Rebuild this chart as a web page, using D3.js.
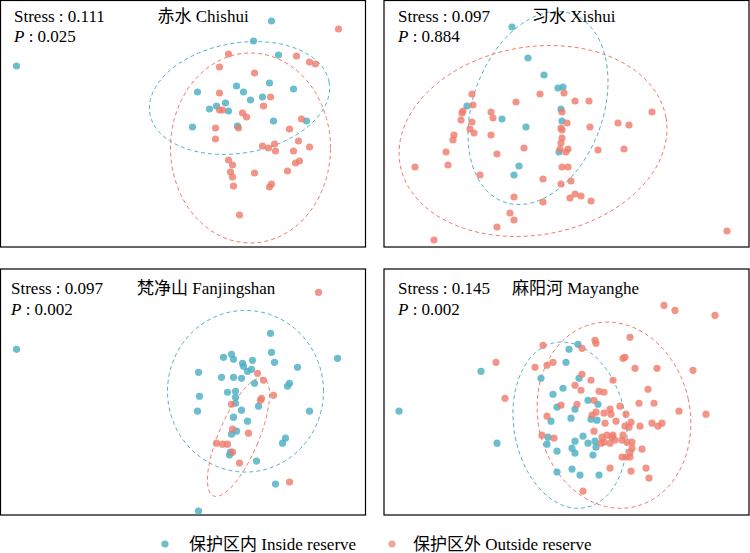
<!DOCTYPE html>
<html><head><meta charset="utf-8">
<script src="https://cdn.jsdelivr.net/npm/d3@7"></script>
<style>
html,body{margin:0;padding:0;background:#fff;}
svg{display:block;}
text{font-family:"Liberation Serif","Times New Roman","Noto Sans CJK SC",serif;fill:#000;}
</style></head>
<body><svg id="chart" width="750" height="553"></svg>
<script>
// ---- data (NMDS scores, arbitrary units) ----
const panelNames = ["赤水 Chishui", "习水 Xishui", "梵净山 Fanjingshan", "麻阳河 Mayanghe"];
const stressValues = ["0.111", "0.097", "0.097", "0.145"];
const pValues = ["0.025", "0.884", "0.002", "0.002"];
const groupLabels = ["保护区内 Inside reserve", "保护区外 Outside reserve"];

const chishuiInside = [[0.16,1.81],[2.71,2.26],[2.53,2.06],[2.78,1.92],[1.97,1.55],[2.36,1.61],[2.43,1.55],[2.69,1.64],[2.93,1.58],[2.50,1.47],[2.62,1.50],[2.25,1.44],[2.16,1.41],[2.09,1.38],[2.28,1.36],[2.73,1.26],[3.06,1.26],[1.92,1.20],[2.37,1.21]];
const chishuiOutside = [[3.38,2.18],[2.28,1.93],[2.96,1.91],[3.09,1.85],[3.15,1.83],[2.19,1.80],[2.54,1.74],[2.19,1.54],[2.70,1.50],[2.63,1.41],[2.19,1.37],[2.22,1.37],[2.42,1.34],[2.46,1.30],[3.01,1.28],[2.15,1.19],[2.38,1.19],[2.89,1.18],[2.15,1.08],[2.98,1.06],[2.62,1.01],[2.74,1.03],[2.68,0.99],[2.75,0.96],[3.09,1.00],[2.93,0.96],[2.28,0.87],[2.32,0.82],[2.99,0.86],[2.95,0.84],[2.30,0.75],[2.32,0.70],[2.54,0.74],[2.87,0.76],[2.33,0.61],[2.71,0.63],[2.69,0.60],[2.39,0.32]];

const xishuiInside = [[1.28,2.20],[1.44,1.89],[1.60,1.72],[1.74,1.59],[1.79,1.60],[0.83,1.41],[1.77,1.38],[1.18,1.28],[1.78,1.26],[1.42,1.20],[1.75,0.95],[1.35,0.81],[1.30,0.72]];
const xishuiOutside = [[1.80,1.54],[1.56,1.53],[0.88,1.53],[1.32,1.45],[1.91,1.46],[2.05,1.46],[0.89,1.42],[0.79,1.36],[0.78,1.34],[1.07,1.35],[2.68,1.35],[1.09,1.29],[0.77,1.27],[0.88,1.25],[1.78,1.35],[1.83,1.24],[2.34,1.24],[2.45,1.22],[2.06,1.20],[1.77,1.19],[1.78,1.17],[0.86,1.18],[0.90,1.14],[0.70,1.12],[1.07,1.12],[1.78,1.09],[0.69,1.07],[1.77,1.04],[1.40,0.99],[1.76,0.98],[1.84,0.98],[1.82,0.95],[2.14,0.97],[2.40,0.98],[0.62,0.95],[1.13,0.93],[0.64,0.82],[0.31,0.80],[1.78,0.80],[1.84,0.80],[0.96,0.72],[1.59,0.68],[1.87,0.66],[1.77,0.63],[1.91,0.53],[1.97,0.51],[1.86,0.49],[1.30,0.50],[1.59,0.45],[2.07,0.46],[1.26,0.34],[1.30,0.27],[1.13,0.20],[0.50,0.07],[3.43,0.16]];

const fanjingInside = [[0.16,1.66],[2.70,1.82],[2.71,1.63],[3.37,1.57],[2.23,1.58],[2.31,1.61],[2.33,1.56],[2.42,1.52],[2.43,1.49],[2.52,1.55],[2.74,1.53],[2.97,1.48],[1.98,1.43],[2.47,1.44],[2.51,1.46],[2.21,1.38],[2.33,1.38],[2.41,1.37],[2.54,1.32],[2.89,1.32],[2.87,1.29],[1.99,1.19],[2.27,1.23],[2.35,1.24],[2.35,1.18],[2.35,1.12],[2.58,1.09],[1.97,1.04],[2.41,1.05],[3.09,1.04],[2.33,0.98],[2.47,0.94],[2.36,0.84],[2.31,0.81],[2.85,0.77],[2.82,0.72],[2.30,0.63],[2.29,0.60],[2.56,0.54],[2.75,0.31],[1.98,0.04]];
const fanjingOutside = [[3.18,2.23],[2.57,1.42],[2.63,1.35],[2.73,1.20],[2.61,1.17],[2.60,1.15],[2.31,1.11],[2.32,0.86],[2.48,0.82],[2.16,0.72],[2.22,0.71],[2.27,0.71],[2.32,0.63],[2.39,0.52],[2.89,0.33]];

const mayangInside = [[0.15,1.04],[0.97,1.44],[1.13,0.72],[1.94,1.71],[1.85,1.66],[1.82,1.53],[1.57,1.37],[1.95,1.37],[1.79,1.27],[1.69,1.21],[1.73,1.08],[1.91,1.06],[2.04,1.15],[2.14,1.11],[1.67,0.94],[1.87,0.97],[2.07,0.96],[2.13,0.95],[1.64,0.78],[1.63,0.71],[1.99,0.79],[1.91,0.74],[2.04,0.72],[2.11,0.74],[2.12,0.68],[1.88,0.67],[1.91,0.62],[1.73,0.64],[2.09,0.60],[1.73,0.43],[1.88,0.46],[1.96,0.40],[2.15,0.40]];
const mayangOutside = [[2.80,2.10],[2.91,2.05],[3.31,2.00],[2.11,1.75],[2.12,1.72],[2.46,1.78],[1.59,1.70],[1.98,1.67],[2.39,1.57],[2.41,1.58],[1.12,1.53],[1.69,1.53],[1.63,1.50],[1.51,1.48],[2.51,1.47],[2.73,1.47],[3.09,1.45],[1.98,1.41],[2.07,1.35],[2.29,1.35],[1.91,1.30],[1.97,1.25],[2.15,1.24],[2.20,1.23],[2.64,1.26],[1.21,1.17],[2.10,1.15],[1.77,1.10],[1.93,1.11],[2.36,1.09],[2.55,1.12],[2.70,1.12],[2.26,1.06],[2.12,1.03],[2.20,1.02],[2.27,1.01],[2.42,1.01],[2.95,1.04],[3.22,1.01],[1.63,0.99],[2.08,1.00],[2.21,0.92],[2.32,0.94],[2.47,0.93],[2.41,0.89],[2.68,0.92],[2.74,0.89],[2.78,0.92],[2.56,0.89],[2.45,0.88],[2.10,0.84],[1.58,0.80],[1.70,0.77],[2.18,0.78],[2.23,0.80],[2.28,0.78],[2.31,0.75],[2.20,0.73],[2.26,0.72],[2.17,0.72],[2.29,0.80],[2.39,0.80],[2.38,0.75],[2.48,0.73],[2.43,0.73],[2.48,0.67],[2.58,0.66],[2.46,0.63],[2.38,0.58],[2.42,0.58],[2.46,0.58],[2.26,0.47],[2.47,0.44],[2.62,0.47],[2.65,0.37],[1.99,0.24]];

// confidence ellipses: [cx, cy, rx, ry, angleDeg]
const ellipsesInside = [[2.39,1.49,0.91,0.55,10],[1.54,1.39,0.65,1.00,-20],[2.45,1.24,0.78,0.81,0],[1.86,0.90,0.56,0.84,10]];
const ellipsesOutside = [[2.50,0.99,0.80,0.95,0],[1.49,1.06,1.35,0.94,10],[2.38,0.78,0.20,0.64,-23],[2.30,1.00,0.76,0.94,12]];

const insideSets = [chishuiInside, xishuiInside, fanjingInside, mayangInside];
const outsideSets = [chishuiOutside, xishuiOutside, fanjingOutside, mayangOutside];

// ---- layout ----
const colIn = "#52b1c6", colOut = "#ef7a6a";
const frames = [
  {x0:0.5, x1:365.5, y0:0.5, y1:247, sx:13.5, sy:21, tx:157},
  {x0:384, x1:749, y0:0.5, y1:247, sx:14, sy:21, tx:148},
  {x0:0.5, x1:365.5, y0:269, y1:515, sx:10.5, sy:25, tx:136.5},
  {x0:384, x1:749, y0:269, y1:515, sx:14, sy:25, tx:128}
];
const svg = d3.select("#chart");

frames.forEach((f, i) => {
  const x = d3.scaleLinear().domain([0, 3.65]).range([f.x0, f.x1]);
  const y = d3.scaleLinear().domain([0, 2.46]).range([f.y1, f.y0 + 0.5]);
  const g = svg.append("g");
  g.append("rect").attr("x", f.x0).attr("y", f.y0).attr("width", f.x1 - f.x0).attr("height", f.y1 - f.y0)
    .attr("fill", "none").attr("stroke", "#000").attr("stroke-width", 1.2);

  const ell = (e) => {
    const [cx, cy, rx, ry, a] = e;
    const th = a * Math.PI / 180;
    const pts = d3.range(0, 361, 3).map(d => {
      const t = d * Math.PI / 180;
      const dx = rx * Math.cos(t), dy = ry * Math.sin(t);
      return [cx + dx * Math.cos(th) - dy * Math.sin(th), cy + dx * Math.sin(th) + dy * Math.cos(th)];
    });
    return d3.line().x(p => x(p[0])).y(p => y(p[1])).curve(d3.curveLinearClosed)(pts);
  };
  g.append("path").attr("d", ell(ellipsesInside[i])).attr("fill", "none")
    .attr("stroke", colIn).attr("stroke-width", 1).attr("stroke-dasharray", "4,3");
  g.append("path").attr("d", ell(ellipsesOutside[i])).attr("fill", "none")
    .attr("stroke", colOut).attr("stroke-width", 1).attr("stroke-dasharray", "4,3");

  g.selectAll("circle.in").data(insideSets[i]).join("circle").attr("class", "in")
    .attr("cx", d => x(d[0])).attr("cy", d => y(d[1])).attr("r", 3.6)
    .attr("fill", colIn).attr("fill-opacity", 0.85);
  g.selectAll("circle.out").data(outsideSets[i]).join("circle").attr("class", "out")
    .attr("cx", d => x(d[0])).attr("cy", d => y(d[1])).attr("r", 3.6)
    .attr("fill", colOut).attr("fill-opacity", 0.8);

  g.append("text").attr("x", f.x0 + f.sx).attr("y", f.y0 + f.sy).attr("font-size", 17)
    .text("Stress : " + stressValues[i]);
  const pt = g.append("text").attr("x", f.x0 + f.sx).attr("y", f.y0 + f.sy + 20.5).attr("font-size", 17);
  pt.append("tspan").attr("font-style", "italic").text("P");
  pt.append("tspan").text(" : " + pValues[i]);
  g.append("text").attr("x", f.x0 + f.tx).attr("y", f.y0 + f.sy).attr("font-size", 17).text(panelNames[i]);
});

// legend
const legend = [{cx:165, tx:189, c:colIn}, {cx:392, tx:413, c:colOut}];
legend.forEach((l, i) => {
  svg.append("circle").attr("cx", l.cx).attr("cy", 544).attr("r", 3.6).attr("fill", l.c).attr("fill-opacity", i ? 0.7 : 0.85);
  svg.append("text").attr("x", l.tx).attr("y", 549.5).attr("font-size", 17).text(groupLabels[i]);
});
</script></body></html>
